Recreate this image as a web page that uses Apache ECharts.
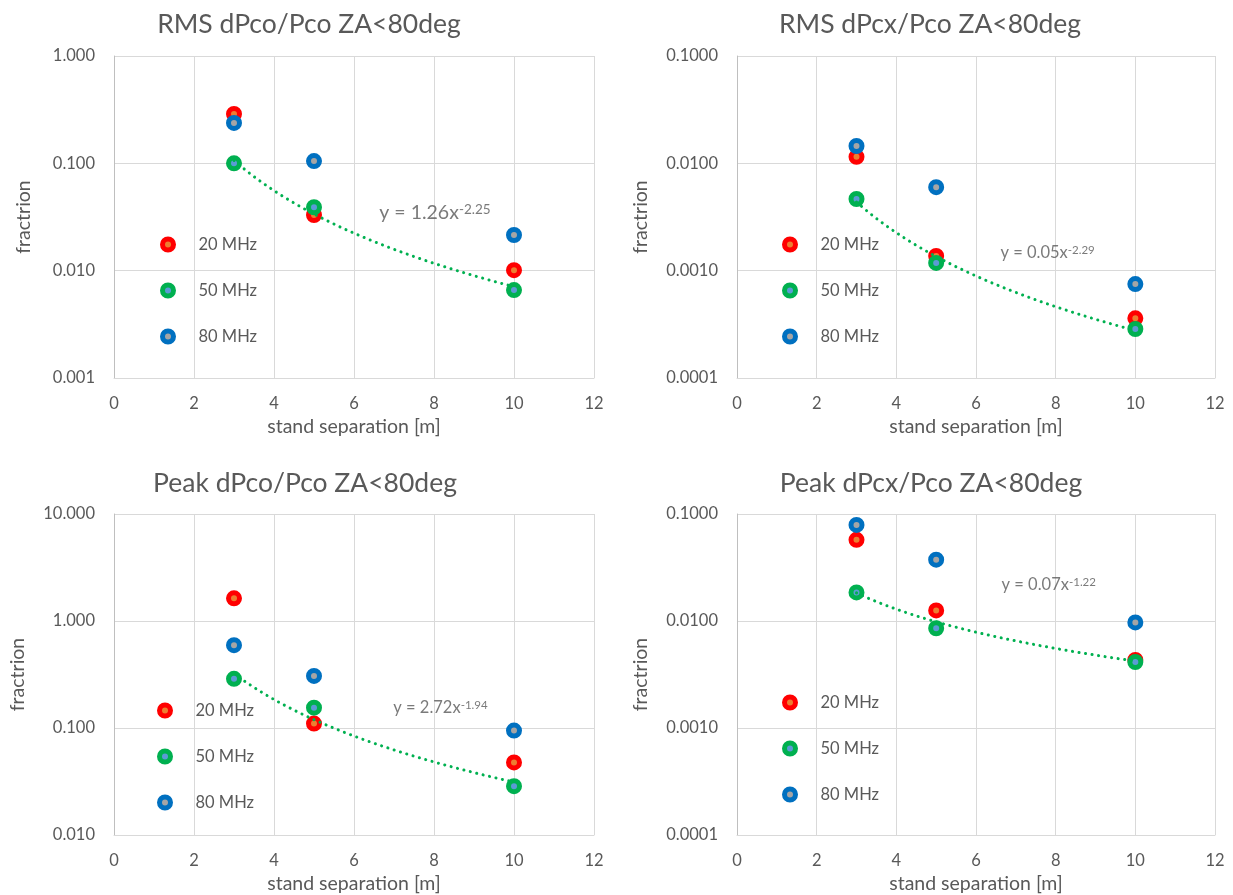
<!DOCTYPE html>
<html>
<head>
<meta charset="utf-8">
<script src="https://cdn.jsdelivr.net/npm/echarts@6/dist/echarts.min.js"></script>
<style>
  html, body { margin: 0; padding: 0; background: #ffffff; }
  #chart { width: 1233px; height: 895px; }
</style>
</head>
<body>
<div id="chart"></div>
<script>
// Stand separation in metres (x values shared by every panel)
const separation = [3, 5, 10];
const seriesNames = ['20 MHz', '50 MHz', '80 MHz'];

// RMS co-polar fraction
const rmsCo20 = [0.288, 0.033, 0.0101];
const rmsCo50 = [0.100, 0.039, 0.0066];
const rmsCo80 = [0.238, 0.105, 0.0215];
// RMS cross-polar fraction
const rmsCx20 = [0.0115, 0.00137, 0.00036];
const rmsCx50 = [0.00465, 0.00118, 0.000286];
const rmsCx80 = [0.0145, 0.0060, 0.00075];
// Peak co-polar fraction
const peakCo20 = [1.63, 0.110, 0.0477];
const peakCo50 = [0.288, 0.155, 0.0286];
const peakCo80 = [0.594, 0.307, 0.0946];
// Peak cross-polar fraction
const peakCx20 = [0.0574, 0.01256, 0.00432];
const peakCx50 = [0.0185, 0.00855, 0.00414];
const peakCx80 = [0.0790, 0.0374, 0.0097];

// Power-law fits y = a * x^b to the 50 MHz points
const rmsCoFit = [1.26, -2.25];
const rmsCxFit = [0.054, -2.29];
const peakCoFit = [2.72, -1.94];
const peakCxFit = [0.07, -1.22];

const xTickMin = 0, xTickMax = 12, xTickStep = 2;

const TEXT = '#595959';
const GRID_LINE = '#d9d9d9';
const FONT = 'Lato, "Open Sans", sans-serif';

// marker styles: ring colour + centre colour
const markerStyles = [
  { color: '#ed7d31', borderColor: '#ff0000' },
  { color: '#5b9bd5', borderColor: '#00b050' },
  { color: '#a5a5a5', borderColor: '#0070c0' }
];

const panels = [
  {
    title: 'RMS dPco/Pco ZA<80deg', values: [rmsCo20, rmsCo50, rmsCo80], fit: rmsCoFit,
    yMin: 0.001, yMax: 1, decimals: 3, yNameGap: 80,
    grid: { left: 114, top: 56, width: 480, height: 322 },
    titlePos: { left: 304, top: 6 }, legendPos: { left: 155, top: 231 },
    eqAt: [6.62, 0.0344], eqSize: 19.5, eqSup: 13.5
  },
  {
    title: 'RMS dPcx/Pco ZA<80deg', values: [rmsCx20, rmsCx50, rmsCx80], fit: rmsCxFit,
    yMin: 0.0001, yMax: 0.1, decimals: 4, yNameGap: 86,
    grid: { left: 737, top: 56, width: 478, height: 322 },
    titlePos: { left: 925, top: 6 }, legendPos: { left: 777, top: 231 },
    eqAt: [6.6, 0.00146], eqSize: 16.5, eqSup: 11.5
  },
  {
    title: 'Peak dPco/Pco ZA<80deg', values: [peakCo20, peakCo50, peakCo80], fit: peakCoFit,
    yMin: 0.01, yMax: 10, decimals: 3, yNameGap: 86,
    grid: { left: 114, top: 514, width: 480, height: 323 },
    titlePos: { left: 300, top: 465 }, legendPos: { left: 152, top: 697 },
    eqAt: [6.97, 0.1545], eqSize: 16.5, eqSup: 11.5
  },
  {
    title: 'Peak dPcx/Pco ZA<80deg', values: [peakCx20, peakCx50, peakCx80], fit: peakCxFit,
    yMin: 0.0001, yMax: 0.1, decimals: 4, yNameGap: 86,
    grid: { left: 737, top: 514, width: 478, height: 323 },
    titlePos: { left: 926, top: 465 }, legendPos: { left: 777, top: 689 },
    eqAt: [6.63, 0.0219], eqSize: 16.5, eqSup: 11.5
  }
];

const option = {
  animation: false,
  backgroundColor: '#ffffff',
  textStyle: { fontFamily: FONT },
  title: [], grid: [], xAxis: [], yAxis: [], legend: [], series: []
};

panels.forEach((p, i) => {
  option.title.push({
    text: p.title, left: p.titlePos.left, top: p.titlePos.top, textAlign: 'center',
    textStyle: { fontFamily: FONT, fontSize: 26.5, fontWeight: 'normal', color: TEXT }
  });
  option.grid.push(Object.assign({ containLabel: false }, p.grid));
  option.xAxis.push({
    gridIndex: i, type: 'value', min: xTickMin, max: xTickMax, interval: xTickStep,
    name: 'stand separation [m]', nameLocation: 'middle', nameGap: 39,
    nameTextStyle: { fontFamily: FONT, fontSize: 19.5, color: TEXT },
    axisLine: { show: true, lineStyle: { color: GRID_LINE, width: 1 } },
    axisTick: { show: false },
    axisLabel: { color: TEXT, fontFamily: FONT, fontSize: 16.5, margin: 17 },
    splitLine: { show: true, lineStyle: { color: GRID_LINE, width: 1 } }
  });
  option.yAxis.push({
    gridIndex: i, type: 'log', logBase: 10, min: p.yMin, max: p.yMax,
    name: 'fractrion', nameLocation: 'middle', nameGap: p.yNameGap,
    nameTextStyle: { fontFamily: FONT, fontSize: 19.5, color: TEXT },
    axisLine: { show: true, lineStyle: { color: '#bfbfbf', width: 1 } },
    axisTick: { show: false },
    axisLabel: {
      color: TEXT, fontFamily: FONT, fontSize: 16.5, margin: 19,
      formatter: v => Number(v).toFixed(p.decimals)
    },
    splitLine: { show: true, lineStyle: { color: GRID_LINE, width: 1 } }
  });
  option.legend.push({
    data: seriesNames, orient: 'vertical', left: p.legendPos.left, top: p.legendPos.top,
    icon: 'circle', itemWidth: 11, itemHeight: 11, itemGap: 29,
    selectedMode: false,
    itemStyle: { borderWidth: 5 },
    textStyle: { color: TEXT, fontFamily: FONT, fontSize: 16.5, padding: [0, 0, 0, 20] }
  });

  // measured points
  p.values.forEach((vals, k) => {
    option.series.push({
      name: seriesNames[k], type: 'scatter', xAxisIndex: i, yAxisIndex: i,
      symbol: 'circle', symbolSize: 11, z: 3,
      itemStyle: { color: markerStyles[k].color, borderColor: markerStyles[k].borderColor, borderWidth: 5, opacity: 1 },
      data: separation.map((x, j) => [x, vals[j]])
    });
  });

  // dotted power-law trend line across the measured range
  const [a, b] = p.fit;
  const x0 = separation[0], x1 = separation[separation.length - 1];
  const trend = [];
  for (let s = 0; s <= 70; s++) {
    const x = x0 + (x1 - x0) * s / 70;
    trend.push([x, a * Math.pow(x, b)]);
  }
  option.series.push({
    name: 'trend', type: 'line', xAxisIndex: i, yAxisIndex: i, z: 4,
    showSymbol: false, symbol: 'none', silent: true, smooth: false,
    lineStyle: { color: '#00b050', width: 3, type: [0.1, 6.5], cap: 'round' },
    data: trend
  });

  // fit equation text
  option.series.push({
    name: 'equation', type: 'scatter', xAxisIndex: i, yAxisIndex: i, z: 5,
    symbolSize: 1, silent: true, itemStyle: { color: 'rgba(0,0,0,0)' },
    data: [p.eqAt],
    label: {
      show: true, position: 'right', distance: 0,
      formatter: '{b|y = ' + a.toFixed(2) + 'x}{s|' + b.toFixed(2) + '}',
      rich: {
        b: { fontFamily: FONT, fontSize: p.eqSize, color: TEXT, verticalAlign: 'bottom' },
        s: { fontFamily: FONT, fontSize: p.eqSup, color: TEXT, verticalAlign: 'top' }
      }
    }
  });
});

const chart = echarts.init(document.getElementById('chart'), null, { renderer: 'canvas' });
chart.setOption(option);
</script>
</body>
</html>
